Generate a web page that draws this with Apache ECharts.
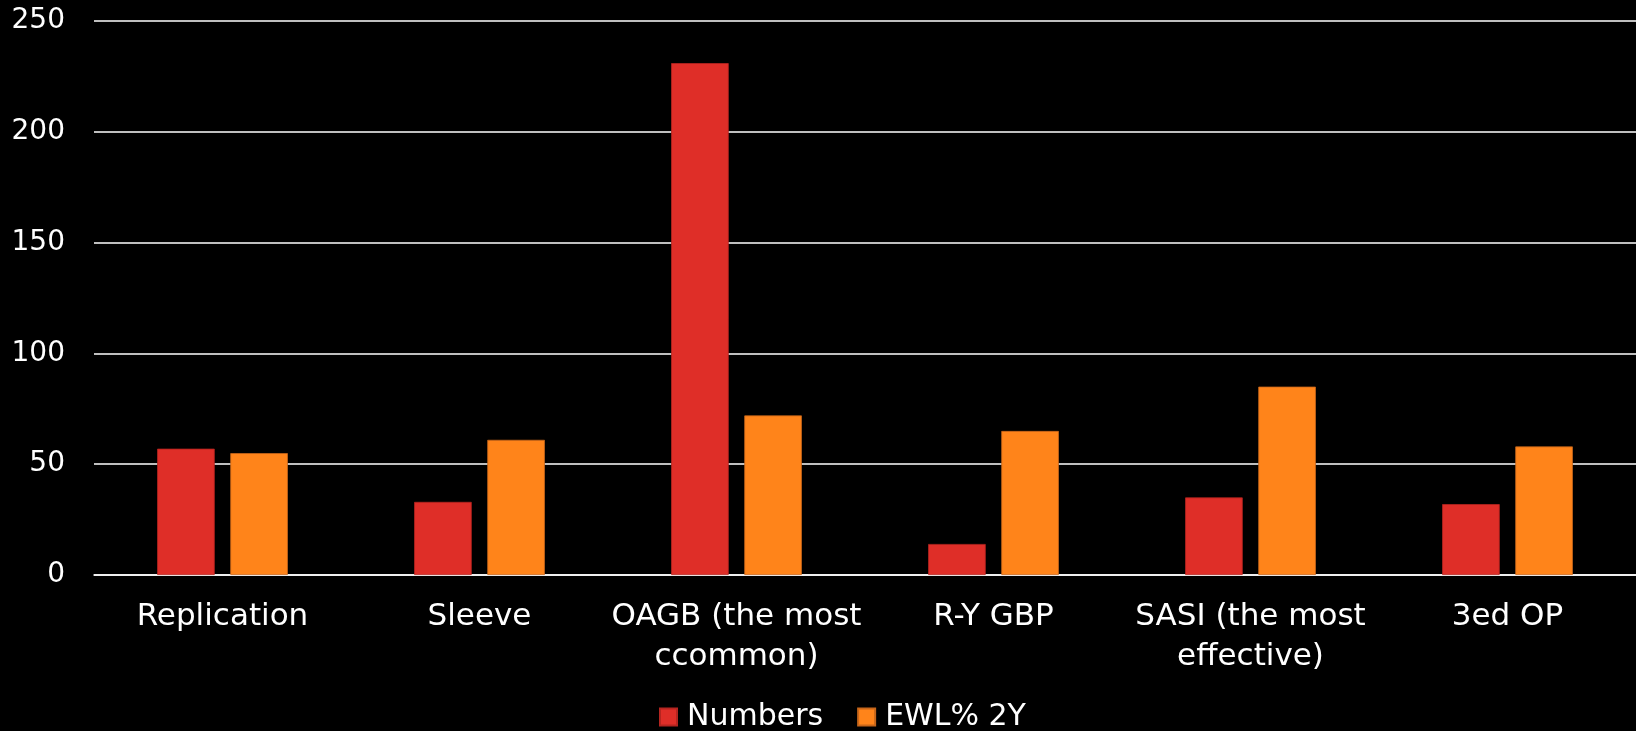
<!DOCTYPE html>
<html>
<head>
<meta charset="utf-8">
<script src="https://cdn.jsdelivr.net/npm/echarts@6/dist/echarts.min.js"></script>
<style>
html,body{margin:0;padding:0;background:#000;}
#chart{width:1636px;height:731px;}
</style>
</head>
<body>
<div id="chart"></div>
<script>
const categories = ['Replication', 'Sleeve', 'OAGB (the most\nccommon)', 'R-Y GBP', 'SASI (the most\neffective)', '3ed OP'];
const numbers = [57, 33, 231, 14, 35, 32];
const ewl2y = [55, 61, 72, 65, 85, 58];
const yTicks = { min: 0, max: 250, interval: 50 };

const font = "'DejaVu Sans', sans-serif";
const chart = echarts.init(document.getElementById('chart'));
chart.setOption({
  backgroundColor: '#000000',
  animation: false,
  grid: { left: 94, right: 0, top: 21, bottom: 156, containLabel: false },
  legend: {
    data: ['Numbers', 'EWL% 2Y'],
    left: 654, bottom: -6,
    icon: 'rect', itemWidth: 17, itemHeight: 17, itemGap: 34,
    textStyle: { color: '#ffffff', fontSize: 30, fontFamily: font, padding: [0, 0, 0, 5] }
  },
  xAxis: {
    type: 'category',
    data: categories,
    axisLine: { show: true, lineStyle: { color: '#ffffff', width: 1.5 } },
    axisTick: { show: false },
    axisLabel: { color: '#ffffff', fontSize: 31, fontFamily: font, margin: 22, lineHeight: 40, interval: 0 }
  },
  yAxis: {
    type: 'value',
    min: yTicks.min, max: yTicks.max, interval: yTicks.interval,
    axisLine: { show: false },
    axisTick: { show: false },
    axisLabel: { color: '#ffffff', fontSize: 28, fontFamily: font, margin: 29 },
    splitLine: { lineStyle: { color: '#ffffff', width: 1.5 } }
  },
  series: [
    { name: 'Numbers', type: 'bar', data: numbers, barWidth: 57.6, barGap: '27%',
      itemStyle: { color: '#DF2E28', borderColor: '#B52520', borderWidth: 0.8 } },
    { name: 'EWL% 2Y', type: 'bar', data: ewl2y, barWidth: 57.6, barGap: '27%',
      itemStyle: { color: '#FF841A', borderColor: '#C8661A', borderWidth: 0.8 } }
  ]
});
</script>
</body>
</html>
